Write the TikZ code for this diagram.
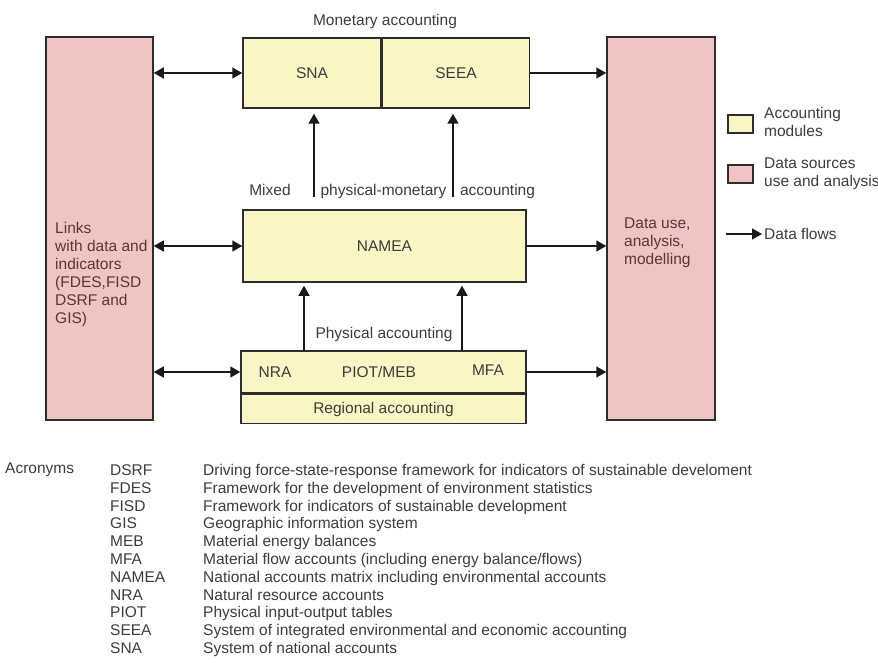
\documentclass[tikz,border=0pt]{standalone}
\usepackage{fontspec}
\setmainfont{Liberation Sans}
\usetikzlibrary{arrows.meta, calc, positioning}
\definecolor{ModuleYellow}{RGB}{249, 245, 196}
\definecolor{SourcePink}{RGB}{240, 196, 194}
\definecolor{FrameGray}{RGB}{45, 45, 45}
\definecolor{LabelGray}{RGB}{60, 60, 60}
\definecolor{SourceText}{RGB}{90, 55, 55}

\tikzset{
    module/.style={draw=FrameGray, fill=ModuleYellow, line width=1.5pt, inner sep=0pt, text=LabelGray},
    source/.style={draw=FrameGray, fill=SourcePink, line width=1.5pt, inner sep=0pt},
    flow/.style={-{Triangle[length=10pt, width=11pt]}, line width=1.5pt, draw=black!90},
    biflow/.style={{Triangle[length=10pt, width=11pt]}-{Triangle[length=10pt, width=11pt]}, line width=1.5pt, draw=black!90},
    lbl/.style={text=LabelGray, inner sep=0pt},
}

\begin{document}
\begin{tikzpicture}[x=1pt, y=-1pt, font=\fontsize{15.5}{18}\selectfont]
    \useasboundingbox (0, 0) rectangle (878, 663);

    % --- Data sources / use (pink columns) ---
    \node[source, minimum width=107pt, minimum height=383pt] (links) at (99.5, 228.5) {};
    \node[source, minimum width=108pt, minimum height=383pt] (datause) at (661, 228.5) {};
    \node[lbl, text=SourceText, align=left, anchor=north west] (linkstext) at (55, 222) {Links\\with data and\\indicators\\(FDES,FISD\\DSRF and\\GIS)};
    \node[lbl, text=SourceText, align=left, anchor=north west] (usetext) at (624, 218) {Data use,\\analysis,\\modelling};

    % --- Monetary accounting ---
    \node[lbl, anchor=base] (monetary) at (385, 25.5) {Monetary accounting};
    \node[module, minimum width=138pt, minimum height=70pt] (sna) at (312, 73) {SNA};
    \node[module, minimum width=147pt, minimum height=70pt, anchor=west] (seea) at (sna.east) {SEEA};

    % --- Mixed physical-monetary accounting ---
    \node[lbl, anchor=base] (mixed) at (270, 195.5) {Mixed};
    \node[lbl, anchor=base] (physmon) at (383.5, 195.5) {physical-monetary};
    \node[lbl, anchor=base] (mixacc) at (497.5, 195.5) {accounting};
    \node[module, minimum width=283pt, minimum height=72pt] (namea) at (384.5, 246) {NAMEA};

    % --- Physical accounting ---
    \node[lbl, anchor=base] (physical) at (384, 338.5) {Physical accounting};
    \node[module, minimum width=285pt, minimum height=42pt] (phys) at (383.5, 372) {};
    \node[module, minimum width=285pt, minimum height=29pt, anchor=north] (regional) at (phys.south) {Regional accounting};
    \node[lbl, anchor=base] (nra) at (275, 377.5) {NRA};
    \node[lbl, anchor=base] (piot) at (379, 377.5) {PIOT/MEB};
    \node[lbl, anchor=base] (mfa) at (488, 375.5) {MFA};

    % --- Data flows ---
    \draw[biflow] (links.east |- sna.west) -- (sna.west);
    \draw[flow] (seea.east) -- (datause.west |- seea.east);
    \draw[biflow] (links.east |- namea.west) -- (namea.west);
    \draw[flow] (namea.east) -- (datause.west |- namea.east);
    \draw[biflow] (links.east |- phys.west) -- (phys.west);
    \draw[flow] (phys.east) -- (datause.west |- phys.east);

    % Upward flows between the modules
    \coordinate (upA) at (314, 197);
    \coordinate (upB) at (453, 197);
    \draw[flow, shorten >=5pt] (upA) -- (upA |- sna.south);
    \draw[flow, shorten >=5pt] (upB) -- (upB |- seea.south);
    \coordinate (lowA) at (304, 0);
    \coordinate (lowB) at (462, 0);
    \draw[flow, shorten >=3pt] (phys.north -| lowA) -- (namea.south -| lowA);
    \draw[flow, shorten >=3pt] (phys.north -| lowB) -- (namea.south -| lowB);

    % --- Legend ---
    \node[module, minimum width=25pt, minimum height=18pt] (keymod) at (740.5, 124) {};
    \node[source, minimum width=25pt, minimum height=18pt] (keysrc) at (740.5, 174) {};
    \node[lbl, align=left, anchor=west] (keymodtext) at (764, 121.5) {Accounting\\modules};
    \node[lbl, align=left, anchor=west] (keysrctext) at (764, 174) {Data sources\\use and analysis};
    \coordinate (keyflow) at (726, 234);
    \node[lbl, anchor=west] (keyflowtext) at (764, 234) {Data flows};
    \draw[flow, shorten >=2pt] (keyflow) -- (keyflowtext.west);

    % --- Acronyms ---
    \node[lbl, anchor=base west] (acronyms) at (5, 473.5) {Acronyms};
    \foreach \abbr/\desc [count=\i from 0] in {
        DSRF/Driving force-state-response framework for indicators of sustainable develoment,
        FDES/Framework for the development of environment statistics,
        FISD/Framework for indicators of sustainable development,
        GIS/Geographic information system,
        MEB/Material energy balances,
        MFA/{Material flow accounts (including energy balance/flows)},
        NAMEA/National accounts matrix including environmental accounts,
        NRA/Natural resource accounts,
        PIOT/Physical input-output tables,
        SEEA/System of integrated environmental and economic accounting,
        SNA/System of national accounts} {
        \node[lbl, anchor=base west] (abbr\i) at (110, 475.5+17.8*\i) {\abbr};
        \node[lbl, anchor=base west] (desc\i) at (203, 475.5+17.8*\i) {\desc};
    }

\end{tikzpicture}
\end{document}
